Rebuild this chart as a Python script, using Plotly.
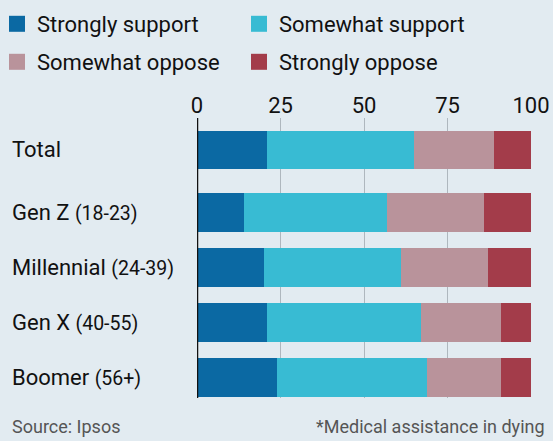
import plotly.graph_objects as go

categories = ["Total", "Gen Z (18-23)", "Millennial (24-39)", "Gen X (40-55)", "Boomer (56+)"]
series_names = ["Strongly support", "Somewhat support", "Somewhat oppose", "Strongly oppose"]
strongly_support = [21, 14, 20, 21, 24]
somewhat_support = [44, 43, 41, 46, 45]
somewhat_oppose = [24, 29, 26, 24, 22]
strongly_oppose = [11, 14, 13, 9, 9]
x_ticks = [0, 25, 50, 75, 100]

colors = ["#0b69a3", "#38bbd3", "#b9939b", "#a33c4a"]
values = [strongly_support, somewhat_support, somewhat_oppose, strongly_oppose]
legend_rows = ["legend", "legend", "legend2", "legend2"]

FONT = "Roboto, sans-serif"
BG = "#e2ebf1"
TXT = "#111111"

W, H = 553, 441
L, R, T, B = 197, 22, 118, 43
PW, PH = W - L - R, H - T - B

# row positions (extra gap after the Total row)
ypos = [0] + [i + 0.136 for i in range(1, len(categories))]

fig = go.Figure()
for name, vals, col in zip(series_names, values, colors):
    fig.add_trace(go.Bar(
        x=vals, y=ypos, orientation="h", name=name,
        marker=dict(color=col, line=dict(width=0)),
        width=0.7, showlegend=False,
    ))
# legend entries
for name, col, lg in zip(series_names, colors, legend_rows):
    fig.add_trace(go.Scatter(
        x=[None], y=[None], mode="markers", name=name, legend=lg,
        marker=dict(symbol="square", size=16, color=col),
    ))

def fmt(label):
    if "(" in label:
        main, rest = label.split("(", 1)
        return f"{main}<span style='font-size:19.5px'>({rest}</span>"
    return label

for cat, y in zip(categories, ypos):
    fig.add_annotation(
        x=(10 - L) / PW, xref="paper", y=y, yref="y", text=fmt(cat),
        xanchor="left", yanchor="middle", showarrow=False,
        font=dict(family=FONT, size=22, color=TXT),
    )

def legend_cfg(ypix):
    return dict(
        orientation="h", x=(-3 - L) / PW, xanchor="left", xref="paper",
        y=1 + (T - ypix) / PH, yanchor="middle", yref="paper",
        entrywidth=197, itemwidth=30, itemsizing="trace", traceorder="normal",
        font=dict(family=FONT, size=22, color=TXT),
        bgcolor="rgba(0,0,0,0)", borderwidth=0,
    )

fig.update_layout(
    width=W, height=H,
    paper_bgcolor=BG, plot_bgcolor=BG,
    barmode="stack",
    margin=dict(l=L, r=R, t=T, b=B, autoexpand=False),
    font=dict(family=FONT, size=22, color=TXT),
    legend=legend_cfg(24),
    legend2=legend_cfg(62),
    xaxis=dict(
        side="top", range=[0, 100], tickvals=x_ticks,
        showgrid=True, gridcolor="#aeb7be", gridwidth=1,
        zeroline=False, showline=False, ticks="",
        tickfont=dict(family=FONT, size=22, color=TXT),
        fixedrange=True,
    ),
    yaxis=dict(
        range=[4.51, -0.58], showticklabels=False, showgrid=False,
        zeroline=False, showline=False, ticks="", fixedrange=True,
    ),
    shapes=[dict(type="line", xref="x", yref="paper", x0=0, x1=0, y0=0, y1=1,
                 line=dict(color=TXT, width=2.5))],
)

fig.add_annotation(
    x=(10 - L) / PW, xref="paper", y=-(426 - (H - B)) / PH, yref="paper",
    text="Source: Ipsos", xanchor="left", yanchor="middle", showarrow=False,
    font=dict(family=FONT, size=18, color="#555555"),
)
fig.add_annotation(
    x=(547 - L) / PW, xref="paper", y=-(426 - (H - B)) / PH, yref="paper",
    text="*Medical assistance in dying", xanchor="right", yanchor="middle", showarrow=False,
    font=dict(family=FONT, size=18, color="#555555"),
)

fig.write_html(
    "out.html",
    config={"displayModeBar": False},
    post_script="document.body.style.margin='0';document.body.style.overflow='hidden';",
)
